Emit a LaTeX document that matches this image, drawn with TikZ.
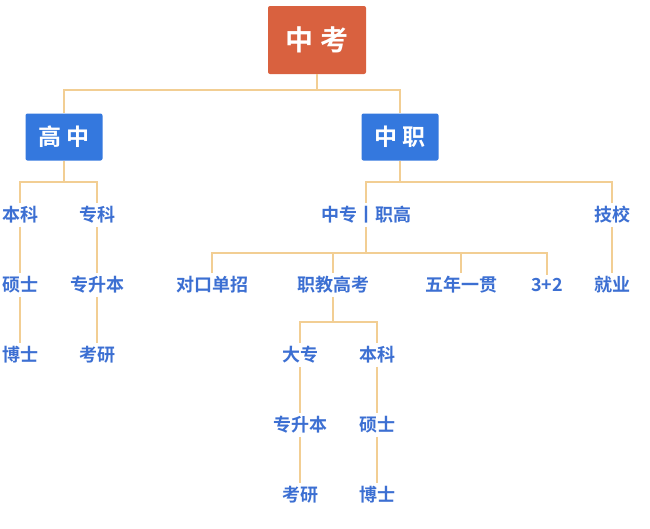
\documentclass[tikz,border=0pt]{standalone}
\usepackage{fontspec}
\newfontfamily\cjk{Noto Sans CJK SC}[BoldFont={Noto Sans CJK SC Bold}]
\begin{document}
\begin{tikzpicture}[x=1pt,y=-1pt,
  topbox/.style={fill=topc, rounded corners=2pt, minimum width=98pt, minimum height=68pt, text=white, font=\cjk\bfseries\fontsize{28}{28}\selectfont},
  bluebox/.style={fill=bluec, rounded corners=2pt, minimum width=77pt, minimum height=47pt, text=white, font=\cjk\bfseries\fontsize{23}{23}\selectfont},
  lab/.style={text=labblue, font=\cjk\bfseries\fontsize{18}{18}\selectfont, inner sep=3pt},
  con/.style={draw=lineor, line width=1.3pt}]
\definecolor{labblue}{HTML}{3C6FD2}
\definecolor{lineor}{HTML}{F2CE93}
\definecolor{topc}{HTML}{D9613F}
\definecolor{bluec}{HTML}{3478DE}
\useasboundingbox (0,0) rectangle (650,528);
\node[topbox] (zk) at (317,40) {中 考};
\node[bluebox] (gz) at (64,137) {高 中};
\node[bluebox] (zz) at (400,137) {中 职};
\node[lab] (bk1) at (20,215) {本科};
\node[lab] (zk1) at (97,215) {专科};
\node[lab] (ss1) at (20,285) {硕士};
\node[lab] (zsb1) at (97,285) {专升本};
\node[lab] (bs1) at (20,355) {博士};
\node[lab] (ky1) at (97,355) {考研};
\node[lab] (zzg) at (366,215) {中专丨职高};
\node[lab] (jx) at (612,215) {技校};
\node[lab] (dk) at (212,285) {对口单招};
\node[lab] (zj) at (333,285) {职教高考};
\node[lab] (wn) at (461,285) {五年一贯};
\node[lab] (sj) at (547,285) {3+2};
\node[lab] (jy) at (612,285) {就业};
\node[lab] (dz) at (300,355) {大专};
\node[lab] (bk2) at (377,355) {本科};
\node[lab] (zsb2) at (300,425) {专升本};
\node[lab] (ss2) at (377,425) {硕士};
\node[lab] (ky2) at (300,495) {考研};
\node[lab] (bs2) at (377,495) {博士};
\coordinate (j0) at (317,90);
\coordinate (j1) at (64,182);
\coordinate (j2) at (400,182);
\coordinate (j3) at (366,253);
\coordinate (j4) at (333,322);
\draw[con] (zk.south) -- (j0) -| (gz.north);
\draw[con] (j0) -| (zz.north);
\draw[con] (gz.south) -- (j1) -| (bk1.north);
\draw[con] (j1) -| (zk1.north);
\draw[con] (bk1.south) -- (ss1.north);
\draw[con] (ss1.south) -- (bs1.north);
\draw[con] (zk1.south) -- (zsb1.north);
\draw[con] (zsb1.south) -- (ky1.north);
\draw[con] (zz.south) -- (j2) -| (zzg.north);
\draw[con] (j2) -| (jx.north);
\draw[con] (jx.south) -- (jy.north);
\draw[con] (zzg.south) -- (j3) -| (dk.north);
\draw[con] (j3) -| (zj.north);
\draw[con] (j3) -| (wn.north);
\draw[con] (j3) -| (sj.north);
\draw[con] (zj.south) -- (j4) -| (dz.north);
\draw[con] (j4) -| (bk2.north);
\draw[con] (dz.south) -- (zsb2.north);
\draw[con] (zsb2.south) -- (ky2.north);
\draw[con] (bk2.south) -- (ss2.north);
\draw[con] (ss2.south) -- (bs2.north);
\end{tikzpicture}
\end{document}
